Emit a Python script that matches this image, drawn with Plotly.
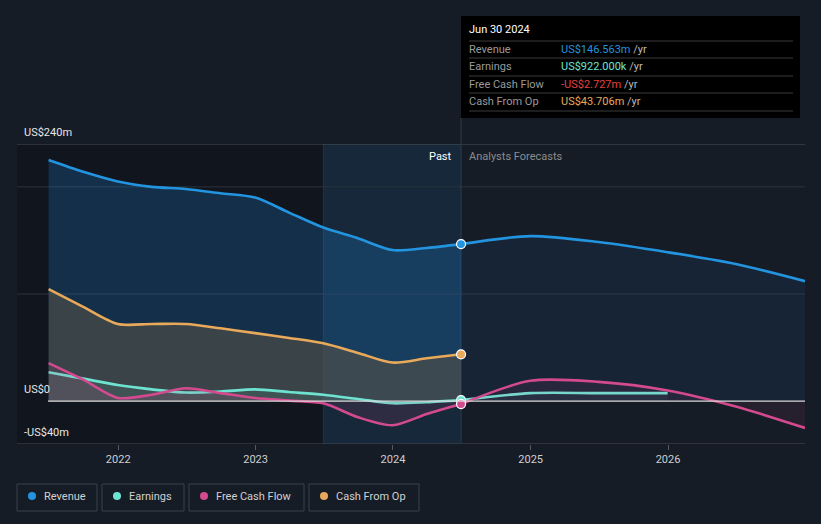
import plotly.graph_objects as go

# ---------------- data ----------------
past_dates = ['2021-06-30', '2021-09-30', '2021-12-31', '2022-03-31', '2022-06-30',
              '2022-09-30', '2022-12-31', '2023-03-31', '2023-06-30', '2023-09-30',
              '2023-12-31', '2024-03-31', '2024-06-30']
revenue_past = [225, 214, 205, 200, 198, 194, 190, 176, 162, 152, 141, 143, 146.563]
earnings_past = [27, 21, 15, 11, 8, 9, 11, 8.5, 6, 2, -2, -1, 0.922]
fcf_past = [35.5, 20, 3, 6, 12, 7.5, 3, 0.5, -2, -15, -22.5, -12, -2.727]
cfo_past = [104.6, 88, 72, 72, 72, 68, 63.5, 59, 54, 45, 36, 40, 43.706]

fc_dates = ['2024-06-30', '2024-12-31', '2025-06-30', '2025-12-31', '2026-06-30', '2026-12-31']
revenue_fc = [146.563, 154, 148.5, 139, 128, 112]
fcf_fc = [-2.727, 19, 18, 10, -5, -25]
earn_fc_dates = ['2024-06-30', '2024-12-31', '2025-06-30', '2025-12-31']
earnings_fc = [0.922, 7.5, 7.5, 7.5]

year_ticks = ['2022-01-01', '2023-01-01', '2024-01-01', '2025-01-01', '2026-01-01']
year_labels = ['2022', '2023', '2024', '2025', '2026']

C_REV = '#2394df'
C_EARN = '#6fe3d2'
C_FCF = '#d44a8e'
C_CFO = '#e8a95a'
BG = '#161c26'
FONT = 'Roboto, Open Sans, sans-serif'

# ---------------- layout geometry ----------------
W, H = 821, 524
L, R, T, B = 17, 805, 144, 444


def px(x):
    return (x - L) / (R - L)


def py(y):
    return (B - y) / (B - T)


fig = go.Figure()


def area(x, y, color, fillcolor, width=2.6):
    fig.add_trace(go.Scatter(x=x, y=y, mode='lines', line=dict(color=color, width=width, shape='spline', smoothing=0.8),
                             fill='tozeroy', fillcolor=fillcolor, hoverinfo='skip', showlegend=False))


# Revenue
area(past_dates, revenue_past, C_REV, 'rgba(33,140,230,0.22)')
area(fc_dates, revenue_fc, C_REV, 'rgba(33,140,230,0.08)')
# Cash from op
area(past_dates, cfo_past, C_CFO, 'rgba(82,80,72,0.62)')
# Earnings
area(past_dates, earnings_past, C_EARN, 'rgba(111,227,210,0.10)')
area(earn_fc_dates, earnings_fc, C_EARN, 'rgba(111,227,210,0.06)')
# FCF
area(past_dates, fcf_past, C_FCF, 'rgba(212,74,142,0.12)')
area(fc_dates, fcf_fc, C_FCF, 'rgba(212,74,142,0.08)')

# markers at Jun 30 2024
for val, col in [(revenue_past[-1], C_REV), (cfo_past[-1], C_CFO),
                 (earnings_past[-1], C_EARN), (fcf_past[-1], C_FCF)]:
    fig.add_trace(go.Scatter(x=[past_dates[-1]], y=[val], mode='markers',
                             marker=dict(color=col, size=9, line=dict(color='white', width=1.2)),
                             hoverinfo='skip', showlegend=False))

shapes = []
# past dark region
shapes.append(dict(type='rect', xref='x', yref='paper', x0='2021-01-01', x1='2023-06-30', y0=0, y1=1,
                   fillcolor='rgba(0,0,0,0.22)', line=dict(width=0), layer='below'))
# highlight region
shapes.append(dict(type='rect', xref='x', yref='paper', x0='2023-06-30', x1='2024-06-30', y0=0, y1=1,
                   fillcolor='rgba(30,110,180,0.14)', line=dict(width=0), layer='below'))
shapes.append(dict(type='line', xref='x', yref='paper', x0='2023-06-30', x1='2023-06-30', y0=0, y1=1,
                   line=dict(color='rgba(60,90,120,0.35)', width=1), layer='below'))
# gridlines
for v, c in [(240, '#4b5058'), (200, '#2c323c'), (100, '#2c323c'), (-40, '#464b53')]:
    shapes.append(dict(type='line', xref='paper', yref='y', x0=0, x1=1, y0=v, y1=v,
                       line=dict(color=c, width=1), layer='below'))
shapes.append(dict(type='line', xref='paper', yref='y', x0=px(48), x1=1, y0=0, y1=0,
                   line=dict(color='#d8d8d8', width=1.2), layer='above'))
# vertical line at present
shapes.append(dict(type='line', xref='x', yref='paper', x0='2024-06-30', x1='2024-06-30', y0=0, y1=py(118),
                   line=dict(color='#2b3d50', width=1), layer='below'))
# tooltip
shapes.append(dict(type='rect', xref='paper', yref='paper', x0=px(461), x1=px(800), y0=py(118), y1=py(16),
                   fillcolor='#000000', line=dict(width=0), layer='above'))
for yy in [41, 58, 76, 93, 111]:
    shapes.append(dict(type='line', xref='paper', yref='paper', x0=px(469), x1=px(793), y0=py(yy), y1=py(yy),
                       line=dict(color='#3a3a3a', width=1), layer='above'))

annotations = []


def text(x, y, s, color='#ffffff', size=11, anchor='left'):
    annotations.append(dict(xref='paper', yref='paper', x=px(x), y=py(y), text=s, showarrow=False,
                            xanchor=anchor, yanchor='middle', font=dict(family=FONT, size=size, color=color)))


text(467, 29, 'Jun 30 2024', '#ffffff', 11)
rows = [('Revenue', 'US$146.563m', C_REV, 49), ('Earnings', 'US$922.000k', C_EARN, 66),
        ('Free Cash Flow', '-US$2.727m', '#e5413f', 84), ('Cash From Op', 'US$43.706m', C_CFO, 101)]
for lab, val, col, yy in rows:
    text(467, yy, lab, '#9a9a9a', 11)
    text(559, yy, f"<span style='color:{col}'>{val}</span> /yr", '#bbbbbb', 11)

# axis labels
text(22, 132, 'US$240m', '#e6e6e6', 11)
text(22, 389, 'US$0', '#e6e6e6', 11)
text(22, 432, '-US$40m', '#e6e6e6', 11)
text(454, 156, 'Past', '#ffffff', 11, 'right')
text(467, 156, 'Analysts Forecasts', '#8c8c8c', 11)

# legend boxes
legend = [('Revenue', C_REV, 17, 97), ('Earnings', C_EARN, 102, 184),
          ('Free Cash Flow', C_FCF, 189, 304), ('Cash From Op', C_CFO, 309, 419)]
for lab, col, x0, x1 in legend:
    shapes.append(dict(type='rect', xref='paper', yref='paper', x0=px(x0), x1=px(x1), y0=py(511), y1=py(484),
                       line=dict(color='#3b4049', width=1), fillcolor='rgba(0,0,0,0)'))
    cx = x0 + 15
    shapes.append(dict(type='circle', xref='paper', yref='paper', x0=px(cx - 4), x1=px(cx + 4),
                       y0=py(500), y1=py(492), fillcolor=col, line=dict(width=0)))
    text(cx + 10, 496, lab, '#d0d0d0', 11)

fig.update_layout(
    width=W, height=H,
    margin=dict(l=L, r=W - R, t=T, b=H - B),
    paper_bgcolor=BG, plot_bgcolor=BG,
    shapes=shapes, annotations=annotations,
    showlegend=False,
    xaxis=dict(type='date', range=['2021-04-07', '2026-12-31'], tickvals=year_ticks, ticktext=year_labels,
               showgrid=False, zeroline=False, showline=False, ticks='outside', ticklen=5,
               tickcolor='#555a62', tickfont=dict(family=FONT, size=11, color='#cfcfcf'), fixedrange=True),
    yaxis=dict(range=[-40, 240], showgrid=False, zeroline=False, showticklabels=False, fixedrange=True),
    font=dict(family=FONT),
)

fig.write_html('out.html', config={'displayModeBar': False},
               post_script="document.body.style.margin='0';document.body.style.padding='0';"
                           "document.body.style.background='#161c26';document.body.style.overflow='hidden';")
